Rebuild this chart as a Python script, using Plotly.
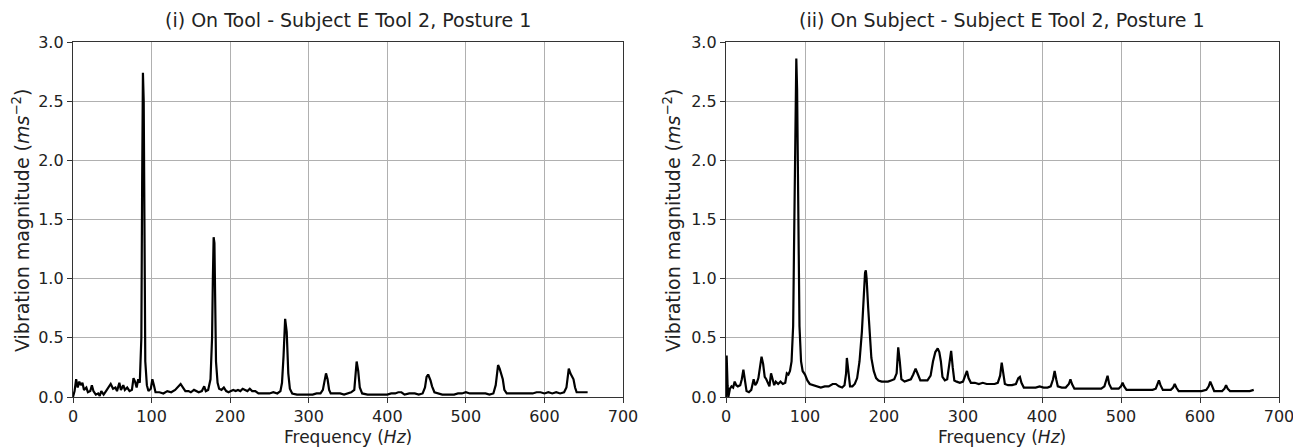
import plotly.graph_objects as go

# ---- Data: (i) On Tool ----
tool_freq = [0, 2, 4, 6, 8, 10, 12, 14, 17, 19, 22, 24, 26, 29, 32, 34, 36, 39, 42, 45, 48, 51, 54, 56, 59,
             61, 64, 66, 69, 72, 75, 77, 79, 81, 83, 85, 87, 88, 89, 90, 91, 92, 94, 96, 99, 101, 103, 105,
             110, 115, 120, 125, 130, 134, 137, 140, 143, 147, 150, 154, 157, 160, 164, 167, 169, 172, 175,
             177, 178, 179, 180, 181, 182, 184, 186, 189, 192, 195, 198, 201, 204, 207, 210, 213, 216, 219,
             222, 225, 228, 232, 236, 240, 245, 250, 255, 260, 264, 266, 268, 270, 272, 274, 276, 279, 285,
             290, 295, 300, 305, 310, 315, 318, 320, 322, 324, 326, 328, 333, 340, 345, 350, 354, 358, 360,
             361, 363, 365, 368, 375, 380, 385, 390, 395, 400, 405, 410, 414, 418, 422, 428, 435, 440, 445,
             448, 450, 452, 455, 457, 460, 465, 470, 475, 480, 485, 490, 495, 500, 505, 510, 515, 520, 525,
             530, 535, 538, 540, 541, 543, 545, 547, 549, 552, 557, 562, 570, 578, 585, 590, 595, 600, 605,
             610, 615, 620, 625, 628, 630, 631, 633, 635, 637, 639, 641, 645, 650, 655]
tool_mag = [0.0, 0.05, 0.15, 0.08, 0.13, 0.10, 0.12, 0.06, 0.08, 0.04, 0.05, 0.10, 0.05, 0.02, 0.03, 0.01, 0.05,
            0.02, 0.05, 0.08, 0.11, 0.07, 0.08, 0.05, 0.12, 0.06, 0.10, 0.06, 0.08, 0.05, 0.06, 0.16, 0.13,
            0.08, 0.15, 0.12, 0.50, 1.80, 2.74, 2.50, 1.30, 0.30, 0.10, 0.05, 0.07, 0.15, 0.10, 0.04, 0.04,
            0.03, 0.05, 0.04, 0.06, 0.09, 0.11, 0.08, 0.05, 0.05, 0.04, 0.06, 0.05, 0.04, 0.05, 0.09, 0.05,
            0.06, 0.15, 0.50, 1.00, 1.35, 1.30, 0.80, 0.30, 0.12, 0.07, 0.06, 0.08, 0.05, 0.04, 0.05, 0.06,
            0.05, 0.06, 0.05, 0.07, 0.06, 0.05, 0.07, 0.05, 0.05, 0.03, 0.03, 0.03, 0.03, 0.04, 0.03, 0.05,
            0.12, 0.35, 0.66, 0.55, 0.20, 0.07, 0.03, 0.02, 0.02, 0.02, 0.02, 0.02, 0.03, 0.03, 0.06, 0.14,
            0.20, 0.15, 0.06, 0.03, 0.03, 0.03, 0.02, 0.03, 0.04, 0.06, 0.25, 0.30, 0.22, 0.08, 0.03, 0.02,
            0.02, 0.02, 0.02, 0.02, 0.02, 0.03, 0.03, 0.04, 0.04, 0.02, 0.03, 0.03, 0.02, 0.03, 0.08, 0.17,
            0.19, 0.14, 0.09, 0.04, 0.03, 0.02, 0.02, 0.02, 0.02, 0.03, 0.03, 0.04, 0.03, 0.03, 0.03, 0.03,
            0.03, 0.02, 0.03, 0.10, 0.22, 0.27, 0.24, 0.20, 0.15, 0.06, 0.03, 0.03, 0.03, 0.03, 0.03, 0.03,
            0.04, 0.04, 0.03, 0.04, 0.03, 0.04, 0.03, 0.04, 0.08, 0.18, 0.24, 0.20, 0.17, 0.15, 0.08, 0.04,
            0.04, 0.04, 0.04]

# ---- Data: (ii) On Subject ----
subj_freq = [0, 0.8, 2, 3, 5, 7, 9, 11, 13, 15, 18, 20, 22, 24, 26, 29, 32, 35, 37, 39, 41, 43, 45, 47, 49,
             51, 53, 55, 57, 59, 61, 63, 66, 69, 72, 75, 77, 79, 81, 83, 85, 86, 87, 88, 89, 90, 91, 92, 93,
             95, 97, 100, 103, 106, 110, 115, 120, 125, 130, 135, 139, 143, 147, 150, 152, 153, 155, 157, 160,
             163, 166, 169, 172, 174, 176, 177, 178, 180, 182, 184, 187, 190, 193, 197, 201, 205, 209, 213,
             216, 218, 220, 222, 226, 230, 234, 237, 240, 243, 246, 250, 255, 259, 262, 265, 268, 270, 272,
             274, 277, 280, 283, 285, 287, 289, 292, 296, 300, 303, 305, 307, 310, 315, 320, 325, 330, 335,
             340, 344, 347, 349, 351, 353, 357, 362, 367, 370, 372, 374, 377, 382, 387, 392, 397, 402, 407,
             411, 414, 416, 418, 420, 425, 430, 434, 436, 438, 441, 446, 452, 458, 464, 470, 475, 479, 481,
             483, 485, 488, 492, 497, 500, 502, 504, 507, 512, 518, 524, 530, 535, 540, 544, 546, 548, 550,
             553, 558, 563, 566, 568, 570, 573, 578, 584, 590, 596, 602, 608, 611, 613, 615, 618, 623, 628,
             631, 633, 635, 638, 643, 648, 653, 658, 663, 668]
subj_mag = [0.0, 0.35, 0.10, 0.0, 0.07, 0.09, 0.08, 0.13, 0.10, 0.09, 0.10, 0.15, 0.23, 0.12, 0.05, 0.04, 0.06,
            0.15, 0.10, 0.12, 0.16, 0.25, 0.34, 0.28, 0.17, 0.15, 0.12, 0.09, 0.20, 0.14, 0.10, 0.13, 0.11,
            0.13, 0.11, 0.12, 0.20, 0.19, 0.22, 0.30, 0.60, 1.20, 2.00, 2.70, 2.86, 2.60, 1.80, 1.00, 0.60,
            0.30, 0.22, 0.19, 0.14, 0.11, 0.10, 0.09, 0.08, 0.09, 0.09, 0.11, 0.11, 0.09, 0.08, 0.10, 0.20,
            0.33, 0.20, 0.09, 0.09, 0.11, 0.16, 0.30, 0.55, 0.85, 1.05, 1.07, 1.00, 0.75, 0.50, 0.33, 0.22,
            0.16, 0.14, 0.13, 0.13, 0.13, 0.14, 0.15, 0.20, 0.42, 0.30, 0.15, 0.13, 0.14, 0.15, 0.19, 0.24,
            0.19, 0.14, 0.14, 0.14, 0.18, 0.30, 0.38, 0.41, 0.38, 0.30, 0.17, 0.14, 0.15, 0.30, 0.39, 0.25,
            0.14, 0.13, 0.12, 0.13, 0.18, 0.22, 0.16, 0.12, 0.12, 0.11, 0.12, 0.11, 0.11, 0.11, 0.12, 0.18,
            0.29, 0.20, 0.11, 0.10, 0.10, 0.11, 0.16, 0.17, 0.12, 0.08, 0.08, 0.08, 0.08, 0.09, 0.08, 0.08,
            0.09, 0.15, 0.22, 0.15, 0.09, 0.08, 0.08, 0.11, 0.15, 0.11, 0.07, 0.07, 0.07, 0.07, 0.07, 0.07,
            0.07, 0.09, 0.14, 0.18, 0.11, 0.07, 0.07, 0.07, 0.09, 0.12, 0.09, 0.06, 0.06, 0.06, 0.06, 0.06,
            0.06, 0.06, 0.07, 0.10, 0.14, 0.10, 0.06, 0.06, 0.06, 0.08, 0.11, 0.08, 0.05, 0.05, 0.05, 0.05,
            0.05, 0.05, 0.06, 0.09, 0.13, 0.09, 0.05, 0.05, 0.05, 0.07, 0.10, 0.07, 0.05, 0.05, 0.05, 0.05,
            0.05, 0.05, 0.06]

titles = ["(i) On Tool - Subject E Tool 2, Posture 1", "(ii) On Subject - Subject E Tool 2, Posture 1"]
x_label = "Frequency (<i>Hz</i>)"
y_label = "Vibration magnitude (<i>ms</i><sup>−2</sup>)"
x_ticks = [0, 100, 200, 300, 400, 500, 600, 700]
y_ticks = [0.0, 0.5, 1.0, 1.5, 2.0, 2.5, 3.0]

W, H = 1301, 447
OFF = 8  # page body margin offset in the browser
FONT = "DejaVu Sans"
TXT = "#222222"


def fx(px):
    return (px - OFF) / W


def fy(py):
    return 1 - (py - OFF) / H


fig = go.Figure()
fig.add_trace(go.Scatter(x=tool_freq, y=tool_mag, mode="lines",
                         line=dict(color="black", width=2.2), xaxis="x", yaxis="y", showlegend=False))
fig.add_trace(go.Scatter(x=subj_freq, y=subj_mag, mode="lines",
                         line=dict(color="black", width=2.2), xaxis="x2", yaxis="y2", showlegend=False))

left_dom = [fx(73), fx(623)]
right_dom = [fx(726), fx(1279)]
y_dom = [fy(397), fy(42)]

axis_common = dict(showgrid=True, gridcolor="#b0b0b0", gridwidth=1, showline=True, linecolor="#333333",
                   linewidth=1.3, mirror=True, ticks="outside", ticklen=5, tickcolor="#333333",
                   tickfont=dict(family=FONT, size=16, color=TXT), zeroline=False, automargin=False)

fig.update_layout(
    width=W, height=H, margin=dict(l=0, r=0, t=0, b=0, autoexpand=False),
    paper_bgcolor="white", plot_bgcolor="white",
    xaxis=dict(domain=left_dom, range=[0, 700], tickvals=x_ticks, anchor="y", **axis_common),
    yaxis=dict(domain=y_dom, range=[0, 3.0], tickvals=y_ticks, tickformat=".1f", anchor="x", **axis_common),
    xaxis2=dict(domain=right_dom, range=[0, 700], tickvals=x_ticks, anchor="y2", **axis_common),
    yaxis2=dict(domain=y_dom, range=[0, 3.0], tickvals=y_ticks, tickformat=".1f", anchor="x2", **axis_common),
)

annots = []
for dom, title in zip([left_dom, right_dom], titles):
    cx = (dom[0] + dom[1]) / 2
    annots.append(dict(text=title, x=cx, y=fy(20), xref="paper", yref="paper", showarrow=False,
                       xanchor="center", yanchor="middle", borderpad=0,
                       font=dict(family=FONT, size=19, color=TXT)))
    annots.append(dict(text=x_label, x=cx, y=fy(437), xref="paper", yref="paper", showarrow=False,
                       xanchor="center", yanchor="middle", font=dict(family=FONT, size=17, color=TXT)))
for px in [21, 672]:
    annots.append(dict(text=y_label, x=fx(px), y=fy(220), xref="paper", yref="paper", showarrow=False,
                       textangle=-90, xanchor="center", yanchor="middle",
                       font=dict(family=FONT, size=19, color=TXT)))
fig.update_layout(annotations=annots)

fig.write_html("out.html")
